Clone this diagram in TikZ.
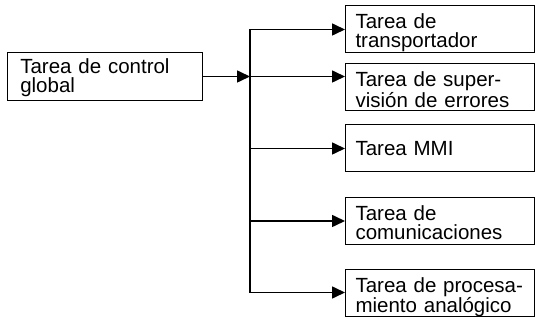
\documentclass[tikz,border=0pt]{standalone}
\usepackage{fontspec}
\setmainfont{Liberation Sans}
\usetikzlibrary{arrows.meta}
\begin{document}
\begin{tikzpicture}[x=1pt,y=-1pt,
  box/.style={draw, line width=1pt, rectangle, align=left,
    font=\fontsize{20.5}{19}\selectfont, text height=15pt, text depth=16pt,
    inner ysep=0pt},
  rbox/.style={box, minimum width=189pt, minimum height=47pt,
    text width=169pt, inner xsep=10pt},
  single/.style={text depth=0pt},
  conn/.style={line width=1.6pt, -{Triangle[length=13pt,width=12pt]}},
  trunkline/.style={line width=1.2pt}]
\useasboundingbox (0,0) rectangle (535,320);
\node[box, minimum width=194.7pt, minimum height=48.5pt, text width=168.7pt,
  inner xsep=13pt, text depth=21pt] (ctl) at (104.65,76.5) {Tarea de control\\global};
\node[rbox] (t1) at (440,29.5) {Tarea de\\transportador};
\node[rbox] (t2) at (440,87.5) {Tarea de super-\\visión de errores};
\node[rbox, single] (t3) at (440,148.5) {Tarea MMI};
\node[rbox] (t4) at (440,221) {Tarea de\\comunicaciones};
\node[rbox] (t5) at (440,292.5) {Tarea de procesa-\\miento analógico};
\coordinate (jx) at (250,0);
\coordinate (jt) at (t1.west -| jx);
\coordinate (jb) at (t5.west -| jx);
\coordinate (j2) at (ctl.east -| jx);
\draw[trunkline] (jt) -- (jb);
\draw[conn] (ctl.east) -- (j2);
\draw[conn] (jt) -- (t1.west);
\draw[conn] (j2) -- (j2 -| t2.west);
\draw[conn] (t3.west -| jx) -- (t3.west);
\draw[conn] (t4.west -| jx) -- (t4.west);
\draw[conn] (jb) -- (t5.west);
\end{tikzpicture}
\end{document}
